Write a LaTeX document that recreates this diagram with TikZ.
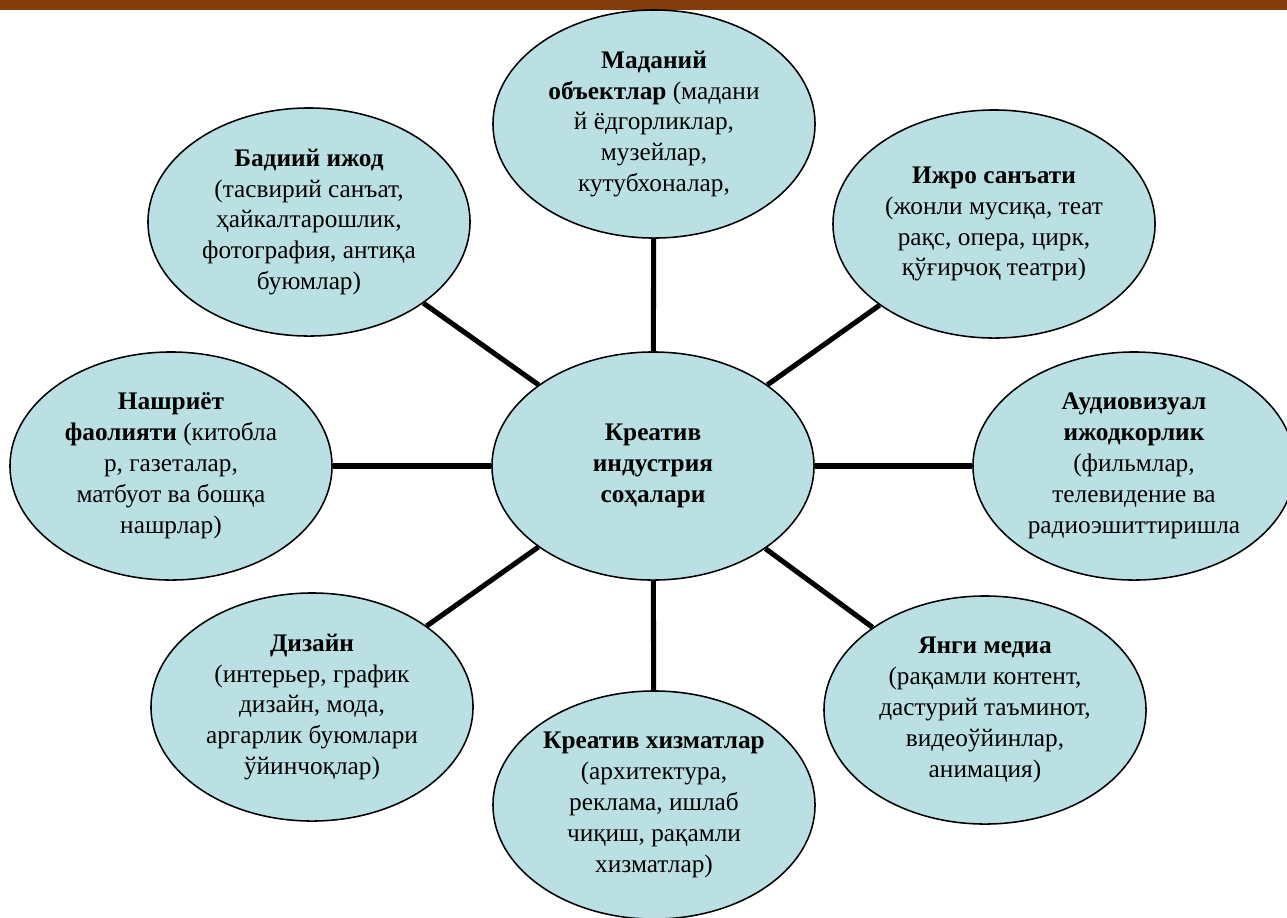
\documentclass[tikz,border=0pt]{standalone}
\usepackage{fontspec}
\setmainfont{Liberation Serif}
\usetikzlibrary{shapes.geometric}
\definecolor{barbrown}{RGB}{132,60,12}
\definecolor{sectorfill}{RGB}{187,224,228}
\begin{document}
\begin{tikzpicture}[x=0.025cm, y=-0.025cm, line width=3.6pt,sector node/.style={ellipse,draw,line width=1.1pt,fill=sectorfill,minimum width=8.05cm,minimum height=5.7cm,inner sep=0pt,align=center,font=\fontsize{18}{22}\selectfont}]%px grid
\useasboundingbox (0,0) rectangle (1287,917);
\fill[barbrown] (0,0) rectangle (1287,10);
\begin{scope}
\node[sector node] (cen) at (653,466) {\textbf{Креатив}\\\textbf{индустрия}\\\textbf{соҳалари}};
\node[sector node] (mad) at (654,124) {\textbf{Маданий}\\\textbf{объектлар} (мадани\\й ёдгорликлар,\\музейлар,\\кутубхоналар,};
\node[sector node] (bad) at (309,222) {\textbf{Бадиий ижод}\\(тасвирий санъат,\\ҳайкалтарошлик,\\фотография, антиқа\\буюмлар)};
\node[sector node] (ijr) at (994,224) {\textbf{Ижро санъати}\\(жонли мусиқа, теат\\рақс, опера, цирк,\\қўғирчоқ театри)};
\node[sector node] (nas) at (171,466) {\textbf{Нашриёт}\\\textbf{фаолияти} (китобла\\р, газеталар,\\матбуот ва бошқа\\нашрлар)};
\node[sector node] (aud) at (1134,466) {\textbf{Аудиовизуал}\\\textbf{ижодкорлик}\\(фильмлар,\\телевидение ва\\радиоэшиттиришла};
\node[sector node] (diz) at (312,707) {\textbf{Дизайн}\\(интерьер, график\\дизайн, мода,\\аргарлик буюмлари\\ўйинчоқлар)};
\node[sector node] (yan) at (985,710) {\textbf{Янги медиа}\\(рақамли контент,\\дастурий таъминот,\\видеоўйинлар,\\анимация)};
\node[sector node] (xiz) at (654,805) {\textbf{Креатив хизматлар}\\(архитектура,\\реклама, ишлаб\\чиқиш, рақамли\\хизматлар)};
\end{scope}
\begin{scope}
\draw  (cen) edge (mad);
\draw  (cen) edge (bad);
\draw  (cen) edge (ijr);
\draw  (cen) edge (nas);
\draw  (cen) edge (aud);
\draw  (cen) edge (diz);
\draw  (cen) edge (yan);
\draw  (cen) edge (xiz);
\end{scope}
\end{tikzpicture}
\end{document}
